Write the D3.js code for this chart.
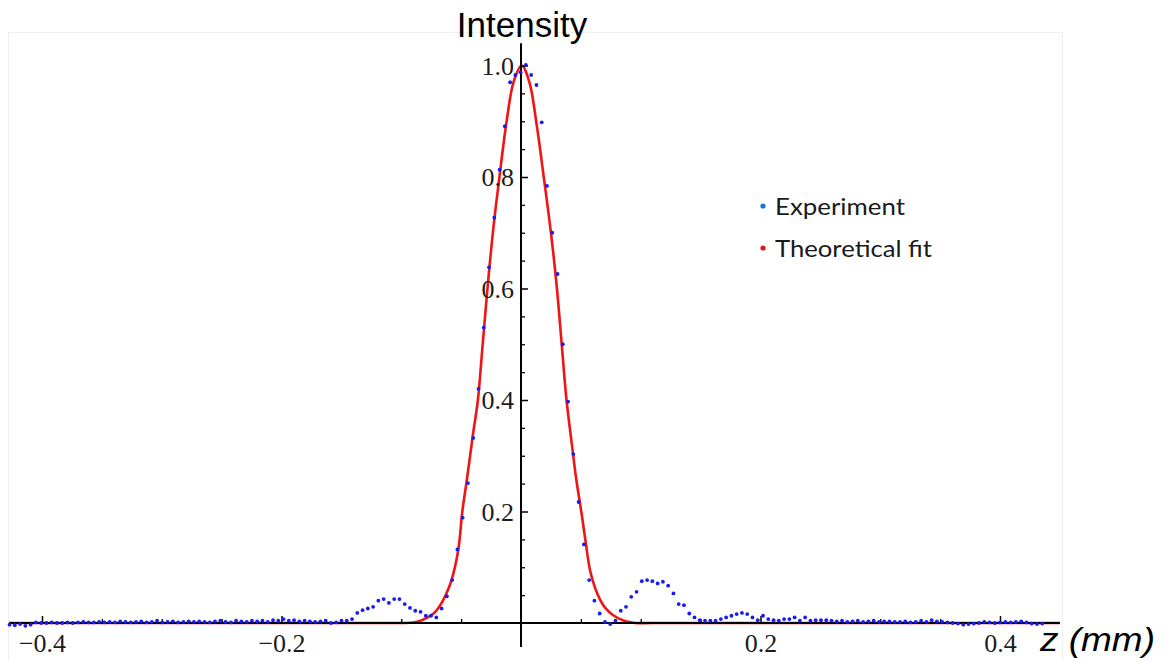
<!DOCTYPE html>
<html>
<head>
<meta charset="utf-8">
<script src="https://cdn.jsdelivr.net/npm/d3@7"></script>
<style>
  html, body { margin: 0; padding: 0; background: #fff; }
  svg { display: block; }
</style>
</head>
<body>
<svg id="chart" width="1165" height="662"></svg>
<script>
// ---------- DATA ----------
const xTickValues = [-0.4, -0.2, 0.2, 0.4];
const xTickLabels = ["\u22120.4", "\u22120.2", "0.2", "0.4"];
const xMinorTicks = [-0.35, -0.3, -0.25, -0.15, -0.1, -0.05, 0.05, 0.1, 0.15, 0.25, 0.3, 0.35];
const yTickValues = [0.2, 0.4, 0.6, 0.8, 1.0];
const yTickLabels = ["0.2", "0.4", "0.6", "0.8", "1.0"];
const yMinorTicks = [0.05, 0.1, 0.15, 0.25, 0.3, 0.35, 0.45, 0.5, 0.55, 0.65, 0.7, 0.75, 0.85, 0.9, 0.95];

const seriesNames = ["Experiment", "Theoretical fit"];

// Experiment: z (mm)
const zExp = [
  -0.4271, -0.4227, -0.4183, -0.4139, -0.4095, -0.4051, -0.4007, -0.3963, -0.3919, -0.3875,
  -0.3831, -0.3787, -0.3743, -0.3699, -0.3655, -0.3611, -0.3567, -0.3523, -0.3479, -0.3435,
  -0.3391, -0.3347, -0.3303, -0.3259, -0.3215, -0.3171, -0.3127, -0.3083, -0.3039, -0.2995,
  -0.2951, -0.2907, -0.2863, -0.2819, -0.2775, -0.2731, -0.2687, -0.2643, -0.2599, -0.2555,
  -0.2511, -0.2467, -0.2423, -0.2379, -0.2335, -0.2291, -0.2247, -0.2203, -0.2159, -0.2115,
  -0.2071, -0.2027, -0.1983, -0.1939, -0.1895, -0.1851, -0.1807, -0.1763, -0.1719, -0.1675,
  -0.1631, -0.1587, -0.1543, -0.1499, -0.1455, -0.1411, -0.1367, -0.1323, -0.1279, -0.1235,
  -0.1191, -0.1147, -0.1103, -0.1059, -0.1015, -0.0971, -0.0927, -0.0883, -0.0839, -0.0795,
  -0.0751, -0.0707, -0.0663, -0.0619, -0.0575, -0.0531, -0.0487, -0.0443, -0.0399, -0.0355,
  -0.0311, -0.0267, -0.0223, -0.0179, -0.0135, -0.0091, -0.0047, -0.0003, 0.0041, 0.0085,
  0.0129, 0.0173, 0.0217, 0.0261, 0.0305, 0.0349, 0.0393, 0.0437, 0.0481, 0.0525,
  0.0569, 0.0613, 0.0657, 0.0701, 0.0745, 0.0789, 0.0833, 0.0877, 0.0921, 0.0965,
  0.1009, 0.1053, 0.1097, 0.1141, 0.1185, 0.1229, 0.1273, 0.1317, 0.1361, 0.1405,
  0.1449, 0.1493, 0.1537, 0.1581, 0.1625, 0.1669, 0.1713, 0.1757, 0.1801, 0.1845,
  0.1889, 0.1933, 0.1977, 0.2021, 0.2065, 0.2109, 0.2153, 0.2197, 0.2241, 0.2285,
  0.2329, 0.2373, 0.2417, 0.2461, 0.2505, 0.2549, 0.2593, 0.2637, 0.2681, 0.2725,
  0.2769, 0.2813, 0.2857, 0.2901, 0.2945, 0.2989, 0.3033, 0.3077, 0.3121, 0.3165,
  0.3209, 0.3253, 0.3297, 0.3341, 0.3385, 0.3429, 0.3473, 0.3517, 0.3561, 0.3605,
  0.3649, 0.3693, 0.3737, 0.3781, 0.3825, 0.3869, 0.3913, 0.3957, 0.4001, 0.4045,
  0.4089, 0.4133, 0.4177, 0.4221, 0.4265, 0.4309, 0.4353
];
// Experiment: intensity
const iExp = [
  -0.003, -0.004, -0.002, -0.005, -0.003, 0.001, 0.000, 0.000, 0.001, 0.000,
  0.000, 0.001, 0.000, 0.001, 0.002, 0.001, 0.001, 0.002, 0.001, 0.002,
  0.001, 0.003, 0.002, 0.001, 0.002, 0.003, 0.001, 0.002, 0.004, 0.001,
  0.002, 0.003, 0.001, 0.002, 0.003, 0.002, 0.003, 0.002, 0.001, 0.003,
  0.004, 0.002, 0.001, 0.004, 0.003, 0.002, 0.004, 0.003, 0.004, 0.002,
  0.005, 0.004, 0.007, 0.004, 0.005, 0.003, 0.004, 0.003, 0.002, 0.003,
  0.004, 0.000, 0.001, 0.004, 0.004, 0.007, 0.018, 0.023, 0.026, 0.029,
  0.040, 0.043, 0.036, 0.043, 0.043, 0.034, 0.027, 0.022, 0.020, 0.013,
  0.013, 0.010, 0.026, 0.048, 0.077, 0.132, 0.189, 0.251, 0.332, 0.420,
  0.530, 0.638, 0.727, 0.813, 0.891, 0.970, 0.983, 0.988, 1.001, 0.983,
  0.965, 0.898, 0.784, 0.700, 0.626, 0.500, 0.397, 0.303, 0.217, 0.141,
  0.077, 0.040, 0.017, 0.002, -0.002, 0.004, 0.022, 0.029, 0.047, 0.056,
  0.075, 0.077, 0.075, 0.071, 0.074, 0.067, 0.053, 0.034, 0.032, 0.017,
  0.010, 0.005, 0.004, 0.004, 0.004, 0.007, 0.010, 0.013, 0.016, 0.018,
  0.016, 0.010, 0.005, 0.013, 0.007, 0.005, 0.004, 0.007, 0.007, 0.010,
  0.004, 0.010, 0.004, 0.005, 0.005, 0.005, 0.004, 0.003, 0.004, 0.002,
  0.003, 0.004, 0.002, 0.003, 0.004, 0.002, 0.003, 0.003, 0.002, 0.002,
  0.003, 0.001, 0.002, 0.004, 0.002, 0.005, 0.003, 0.002, 0.001, 0.000,
  -0.001, -0.003, -0.002, -0.001, 0.000, 0.002, 0.001, 0.000, 0.001, 0.002,
  0.001, 0.002, 0.003, 0.001, -0.001, -0.002, -0.001
];

// Theoretical fit: z (mm) and intensity
const zFit = [
  -0.4275, -0.110, -0.0982, -0.090, -0.084, -0.078, -0.073, -0.069, -0.065, -0.0615,
  -0.058, -0.0524, -0.049, -0.045, -0.040, -0.036, -0.032, -0.028, -0.023, -0.018,
  -0.012, -0.006, 0.0006, 0.007, 0.013, 0.019, 0.025, 0.030, 0.034, 0.038,
  0.0425, 0.046, 0.0507, 0.054, 0.0576, 0.062, 0.066, 0.070, 0.077, 0.085,
  0.090, 0.095, 0.110, 0.45
];
const iFit = [
  0.000, 0.000, 0.000, 0.001, 0.004, 0.010, 0.017, 0.027, 0.041, 0.057,
  0.077, 0.131, 0.200, 0.260, 0.340, 0.400, 0.500, 0.600, 0.710, 0.800,
  0.900, 0.972, 1.000, 0.970, 0.895, 0.800, 0.700, 0.600, 0.500, 0.400,
  0.320, 0.260, 0.195, 0.145, 0.095, 0.062, 0.042, 0.028, 0.014, 0.005,
  0.002, 0.000, 0.000, 0.000
];

// ---------- CHART ----------
const svg = d3.select("#chart");
const x = d3.scaleLinear().domain([-0.4, 0.4]).range([42, 1000]);
const y = d3.scaleLinear().domain([0, 1]).range([623, 65.5]);

const serif = "'Liberation Serif', 'Times New Roman', serif";
const sans = "'Liberation Sans', Arial, sans-serif";
const textCol = "#1c1c1c";

// faint frame
svg.append("rect")
  .attr("x", 8.5).attr("y", 32.5).attr("width", 1054).attr("height", 640)
  .attr("fill", "none").attr("stroke", "#f0f0f0").attr("stroke-width", 1);

// theoretical fit line (under axes)
const fitData = zFit.map((z, i) => ({ z, v: iFit[i] }));
svg.append("path")
  .datum(fitData)
  .attr("fill", "none")
  .attr("stroke", "#f01414")
  .attr("stroke-width", 2.6)
  .attr("stroke-linejoin", "round")
  .attr("d", d3.line().x(d => x(d.z)).y(d => y(Math.max(0, d.v))).curve(d3.curveCatmullRom.alpha(0.5)));

// axes lines
const axisG = svg.append("g").attr("stroke", "#000");
axisG.append("line")
  .attr("x1", x(-0.4275)).attr("x2", x(0.45))
  .attr("y1", y(0)).attr("y2", y(0)).attr("stroke-width", 2);
axisG.append("line")
  .attr("x1", x(0)).attr("x2", x(0))
  .attr("y1", y(1.04)).attr("y2", y(-0.043)).attr("stroke-width", 2);

// x axis: major ticks with labels
const xAxis = d3.axisBottom(x)
  .tickValues(xTickValues)
  .tickFormat((d, i) => xTickLabels[i])
  .tickSize(-7)
  .tickPadding(11);
const gx = svg.append("g").attr("transform", `translate(0,${y(0)})`).call(xAxis);
gx.select(".domain").remove();
gx.selectAll(".tick line").attr("stroke", "#000").attr("stroke-width", 1.5);
gx.selectAll(".tick text")
  .attr("font-family", serif).attr("font-size", 26).attr("fill", textCol);

// x axis minor ticks
const xAxisMinor = d3.axisBottom(x).tickValues(xMinorTicks).tickFormat("").tickSize(-4);
const gxm = svg.append("g").attr("transform", `translate(0,${y(0)})`).call(xAxisMinor);
gxm.select(".domain").remove();
gxm.selectAll(".tick line").attr("stroke", "#000").attr("stroke-width", 1.3);

// y axis: major ticks with labels
const yAxis = d3.axisLeft(y)
  .tickValues(yTickValues)
  .tickFormat((d, i) => yTickLabels[i])
  .tickSize(-7)
  .tickPadding(7);
const gy = svg.append("g").attr("transform", `translate(${x(0)},0)`).call(yAxis);
gy.select(".domain").remove();
gy.selectAll(".tick line").attr("stroke", "#000").attr("stroke-width", 1.5);
gy.selectAll(".tick text")
  .attr("font-family", serif).attr("font-size", 26).attr("fill", textCol)
  .attr("dy", "0.34em");

// y axis minor ticks
const yAxisMinor = d3.axisLeft(y).tickValues(yMinorTicks).tickFormat("").tickSize(-4);
const gym = svg.append("g").attr("transform", `translate(${x(0)},0)`).call(yAxisMinor);
gym.select(".domain").remove();
gym.selectAll(".tick line").attr("stroke", "#000").attr("stroke-width", 1.3);

// experiment points
const expData = zExp.map((z, i) => ({ z, v: iExp[i] }));
svg.append("g").selectAll("circle")
  .data(expData)
  .join("circle")
  .attr("cx", d => x(d.z))
  .attr("cy", d => y(d.v))
  .attr("r", 1.9)
  .attr("fill", "#1a1af2");

// axis titles
svg.append("text")
  .attr("x", 522).attr("y", 37)
  .attr("text-anchor", "middle")
  .attr("font-family", sans).attr("font-size", 35).attr("fill", "#000")
  .text("Intensity");

svg.append("text")
  .attr("x", 1040).attr("y", 651)
  .attr("font-family", sans).attr("font-size", 33).attr("font-style", "italic").attr("fill", "#000")
  .attr("textLength", 115).attr("lengthAdjust", "spacingAndGlyphs")
  .text("z (mm)");

// legend
const legendColors = ["#1f6fd0", "#e81414"];
const legendY = [206, 248];
const legendBase = [215, 257];
const legendLen = [130, 157];
const lg = svg.append("g");
seriesNames.forEach((name, i) => {
  lg.append("circle").attr("cx", 763).attr("cy", legendY[i]).attr("r", 2.6).attr("fill", legendColors[i]);
  lg.append("text")
    .attr("x", 775).attr("y", legendBase[i])
    .attr("font-family", "Lato, 'Open Sans', sans-serif").attr("font-size", 23).attr("fill", "#1a1a1a")
    .attr("textLength", legendLen[i]).attr("lengthAdjust", "spacingAndGlyphs")
    .text(name);
});
</script>
</body>
</html>
